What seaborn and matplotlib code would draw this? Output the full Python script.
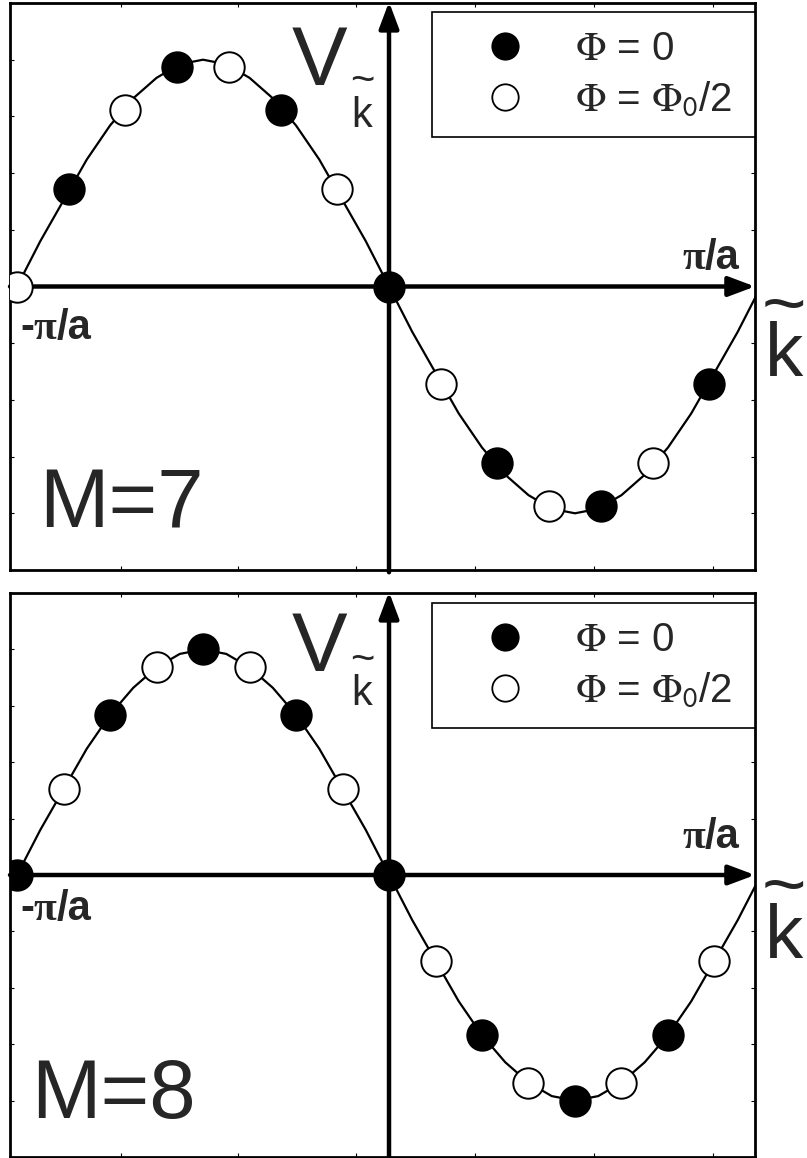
import matplotlib
matplotlib.use("Agg")
import matplotlib.pyplot as plt
from matplotlib.lines import Line2D
import seaborn as sns

# ---------------- data (k in units of pi/a, V in units of its amplitude) -------------
curve_k = [-1.0, -0.9375, -0.875, -0.8125, -0.75, -0.6875, -0.625, -0.5625, -0.5,
           -0.4375, -0.375, -0.3125, -0.25, -0.1875, -0.125, -0.0625, 0.0,
           0.0625, 0.125, 0.1875, 0.25, 0.3125, 0.375, 0.4375, 0.5,
           0.5625, 0.625, 0.6875, 0.75, 0.8125, 0.875, 0.9375, 1.0]
curve_v = [0.0, 0.20, 0.38, 0.56, 0.71, 0.83, 0.92, 0.98, 1.0,
           0.98, 0.92, 0.83, 0.71, 0.56, 0.38, 0.20, 0.0,
           -0.20, -0.38, -0.56, -0.71, -0.83, -0.92, -0.98, -1.0,
           -0.98, -0.92, -0.83, -0.71, -0.56, -0.38, -0.20, 0.0]

# M = 7
k7_filled = [-0.86, -0.57, -0.29, 0.0, 0.29, 0.57, 0.86]
v7_filled = [0.43, 0.97, 0.78, 0.0, -0.78, -0.97, -0.43]
k7_open = [-1.0, -0.71, -0.43, -0.14, 0.14, 0.43, 0.71]
v7_open = [0.0, 0.78, 0.97, 0.43, -0.43, -0.97, -0.78]

# M = 8
k8_filled = [-1.0, -0.75, -0.5, -0.25, 0.0, 0.25, 0.5, 0.75]
v8_filled = [0.0, 0.71, 1.0, 0.71, 0.0, -0.71, -1.0, -0.71]
k8_open = [-0.875, -0.625, -0.375, -0.125, 0.125, 0.375, 0.625, 0.875]
v8_open = [0.38, 0.92, 0.92, 0.38, -0.38, -0.92, -0.92, -0.38]

panel_labels = ["M=7", "M=8"]
legend_labels = [r"$\Phi$ = 0", r"$\Phi$ = $\Phi_{\mathsf{0}}$/2"]
x_ticks = [-0.72, -0.405, -0.09, 0.23, 0.55, 0.87]
y_ticks = [-1.0, -0.75, -0.5, -0.25, 0.25, 0.5, 0.75, 1.0]

# ---------------- style ----------------
sns.set_theme(style="white")
plt.rcParams["font.family"] = ["Liberation Sans", "DejaVu Sans"]
plt.rcParams["mathtext.fontset"] = "stix"

fig = plt.figure(figsize=(8.07, 11.58), dpi=100)
ax_top = fig.add_axes([10 / 807, 1 - 570 / 1158, 745 / 807, 567 / 1158])
ax_bot = fig.add_axes([10 / 807, 1 - 1157 / 1158, 745 / 807, 564 / 1158])

XL = (-1.019, 0.984)
YL = (-1.25, 1.25)
PI_FS = 30


def pi_over_a(ax, x, y, ha, minus=False):
    t = ax.text(x, y, "π", fontsize=PI_FS, fontweight="bold",
                family=["Liberation Serif"], ha=ha, va="baseline")
    ax.annotate("/a", xy=(1, 0), xycoords=t, fontsize=PI_FS, fontweight="bold",
                ha="left", va="bottom")
    if minus:
        ax.annotate("-", xy=(0, 0), xycoords=t, fontsize=PI_FS, fontweight="bold",
                    ha="right", va="bottom")


def draw_panel(ax, kf, vf, ko, vo, label, geo):
    ax.set_xlim(*XL)
    ax.set_ylim(*YL)
    ax.set_facecolor("white")
    for sp in ax.spines.values():
        sp.set_color("black")
        sp.set_linewidth(2.0)
    ax.set_xticks(x_ticks)
    ax.set_yticks(y_ticks)
    ax.tick_params(direction="in", length=3, width=0.8, color="black",
                   top=True, right=True, bottom=True, left=True,
                   labelbottom=False, labelleft=False)
    ax.grid(False)

    # coordinate axes with arrows
    ax.annotate("", xy=(XL[1], 0), xytext=(XL[0], 0),
                arrowprops=dict(arrowstyle="-|>,head_length=0.8,head_width=0.3",
                                mutation_scale=20, lw=3.2, color="black",
                                shrinkA=0, shrinkB=0),
                annotation_clip=False, zorder=2)
    ax.annotate("", xy=(0, 1.255), xytext=(0, -1.26),
                arrowprops=dict(arrowstyle="-|>,head_length=0.8,head_width=0.3",
                                mutation_scale=20, lw=3.2, color="black",
                                shrinkA=0, shrinkB=0),
                annotation_clip=False, zorder=2)

    # curve and points
    sns.lineplot(x=curve_k, y=curve_v, ax=ax, color="black", linewidth=1.6,
                 sort=False, estimator=None, zorder=3)
    sns.scatterplot(x=ko, y=vo, ax=ax, color="white", edgecolor="black",
                    s=480, linewidth=1.4, zorder=5, legend=False)
    sns.scatterplot(x=kf, y=vf, ax=ax, color="black", edgecolor="black",
                    s=480, linewidth=1.4, zorder=5, legend=False)

    # labels
    ax.text(-0.262, geo["V"], "V", fontsize=60, ha="left", va="baseline")
    ax.text(-0.073, geo["vk"], "~\nk", fontsize=30, ha="center", va="bottom",
            linespacing=0.8)
    ax.text(1.062, geo["K"], "~\nk", fontsize=55, ha="center", va="bottom",
            linespacing=0.58)
    pi_over_a(ax, 0.849, geo["pa"], "right")
    pi_over_a(ax, -0.955, geo["ma"], "left", minus=True)
    ax.text(geo["Mx"], geo["M"], label, fontsize=60, ha="left", va="baseline")

    handles = [Line2D([], [], ls="", marker="o", ms=19, mfc="black", mec="black", mew=1.3),
               Line2D([], [], ls="", marker="o", ms=19, mfc="white", mec="black", mew=1.3)]
    leg = ax.legend(handles, legend_labels, loc="upper left",
                    bbox_to_anchor=(0.566, 0.3, 0.434, geo["leg_top"] - 0.3),
                    mode="expand", borderaxespad=0, fontsize=29, frameon=True,
                    fancybox=False, framealpha=1, edgecolor="black",
                    borderpad=0.45, labelspacing=0.3, handlelength=2.75,
                    handletextpad=0.35)
    leg.get_frame().set_linewidth(1.2)
    leg.set_zorder(6)


draw_panel(ax_top, k7_filled, v7_filled, k7_open, v7_open, panel_labels[0],
           dict(V=0.89, vk=0.665, K=-0.467, pa=0.075, ma=-0.233,
                Mx=-0.94, M=-1.062, leg_top=0.984))
draw_panel(ax_bot, k8_filled, v8_filled, k8_open, v8_open, panel_labels[1],
           dict(V=0.905, vk=0.712, K=-0.438, pa=0.12, ma=-0.20,
                Mx=-0.962, M=-1.075, leg_top=0.982))

fig.savefig("out.png", dpi=100, facecolor="white")
